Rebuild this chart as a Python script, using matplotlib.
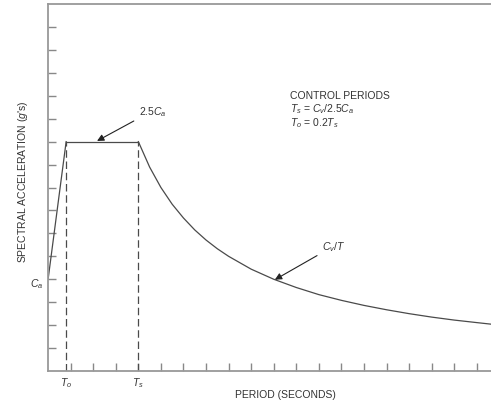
import numpy as np
import matplotlib.pyplot as plt

plt.rcParams['font.family'] = ['Liberation Sans', 'DejaVu Sans']
plt.rcParams['mathtext.fontset'] = 'custom'
plt.rcParams['mathtext.rm'] = 'Liberation Sans'
plt.rcParams['mathtext.it'] = 'Liberation Sans:italic'

# response spectrum (tick units)
ca = 4.0          # C_a, spectral acceleration at T = 0
plateau = 10.0    # 2.5 C_a
t0 = 0.8          # T_o
ts = 4.0          # T_s
rise_t = [0.0, t0]
rise_sa = [ca, plateau]
flat_t = [t0, ts]
flat_sa = [plateau, plateau]
# descending branch (C_v / T)
decay_t = [4.0, 4.5, 5.0, 5.5, 6.0, 6.5, 7.0, 7.5, 8.0, 9.0, 10.0, 11.0, 12.0,
           13.0, 14.0, 15.0, 16.0, 17.0, 18.0, 19.0, 19.65]
decay_sa = [10.0, 8.89, 8.0, 7.27, 6.67, 6.15, 5.71, 5.33, 5.0, 4.44, 4.0, 3.64,
            3.33, 3.08, 2.86, 2.67, 2.5, 2.35, 2.22, 2.11, 2.04]
xticks = list(range(1, 20))
yticks = list(range(1, 16))

fig = plt.figure(figsize=(4.91, 4.02), dpi=100)
ax = fig.add_axes([48.1 / 491, 30 / 402, (491 - 48.1) / 491, 367 / 402])
ax.set_xlim(0, 19.63)
ax.set_ylim(0, 16.0)

line_c = '#4a4a4a'
ax.plot(rise_t, rise_sa, color=line_c, lw=0.9)
ax.plot(flat_t, flat_sa, color=line_c, lw=0.9)
ax.plot(decay_t, decay_sa, color=line_c, lw=0.9)
ax.plot([t0, t0], [0, plateau], color=line_c, lw=0.9, ls=(0, (6, 3)))
ax.plot([ts, ts], [0, plateau], color=line_c, lw=0.9, ls=(0, (6, 3)))

for s in ['left', 'bottom', 'top']:
    ax.spines[s].set_color('#999999')
    ax.spines[s].set_linewidth(1.3)
ax.spines['right'].set_visible(False)

ax.set_xticks(xticks)
ax.set_yticks(yticks)
ax.tick_params(direction='in', length=6, width=1.0, color='#888888',
               labelbottom=False, labelleft=False)

fs = 7.5
ax.annotate(r'$2.5C_a$', xy=(2.17, 10.03), xytext=(4.03, 11.35),
            fontsize=fs, color='#333333', va='center', ha='left',
            arrowprops=dict(arrowstyle='-|>', color='#222222', lw=0.8,
                            mutation_scale=10, shrinkA=2, shrinkB=0))
ax.annotate(r'$C_v/T$', xy=(10.05, 3.98), xytext=(12.15, 5.45),
            fontsize=fs, color='#333333', va='center', ha='left',
            arrowprops=dict(arrowstyle='-|>', color='#222222', lw=0.8,
                            mutation_scale=10, shrinkA=2, shrinkB=0))

ax.text(10.72, 12.05, 'CONTROL PERIODS', fontsize=fs, color='#333333', va='center')
ax.text(10.72, 11.45, r'$T_s$ = $C_v$/2.5$C_a$', fontsize=fs, color='#333333', va='center')
ax.text(10.72, 10.87, r'$T_o$ = 0.2$T_s$', fontsize=fs, color='#333333', va='center')

ax.text(-0.2, 3.85, r'$C_a$', fontsize=fs, color='#333333', ha='right', va='center')
ax.text(t0, -0.2, r'$T_o$', fontsize=fs, color='#333333', ha='center', va='top')
ax.text(ts, -0.2, r'$T_s$', fontsize=fs, color='#333333', ha='center', va='top')

ax.set_xlabel('PERIOD (SECONDS)', fontsize=fs, color='#333333')
ax.xaxis.set_label_coords(0.535, -0.05)
ax.set_ylabel(r"SPECTRAL ACCELERATION ($g$'s)", fontsize=fs, color='#333333')
ax.yaxis.set_label_coords(-0.04, 0.518)

fig.savefig('out.png', dpi=100)
